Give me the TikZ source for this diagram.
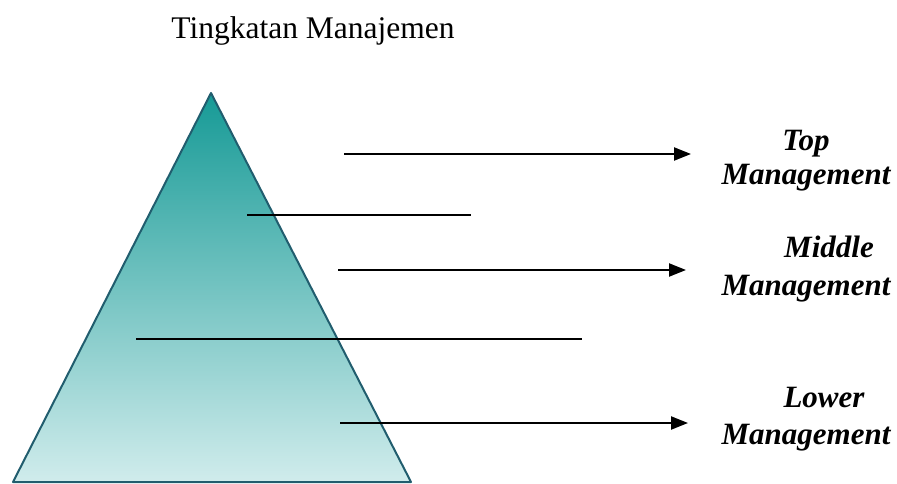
\documentclass[tikz,border=0pt]{standalone}
\usepackage{fontspec}
\setmainfont{Liberation Serif}
\usetikzlibrary{arrows.meta}
\definecolor{tealtop}{HTML}{169A96}
\definecolor{tealbot}{HTML}{D0ECEC}
\definecolor{tealedge}{HTML}{215D6E}
\begin{document}
\begin{tikzpicture}[
        x=1pt, y=-1pt,
        etichetta/.style={
            anchor=base,
            inner sep=0pt,
            font=\fontsize{31}{37}\selectfont\bfseries\itshape
        },
        freccia/.style={
            line width=2.2pt,
            -{Triangle[length=17pt,width=13pt]}
        },
        divisore/.style={
            line width=2pt
        }
    ]
        \useasboundingbox (0,0) rectangle (897,484);

        % Titolo
        \node[anchor=base, inner sep=0pt, font=\fontsize{31.5}{37}\selectfont] (titolo) at (313,39) {Tingkatan Manajemen};

        % Piramide
        \coordinate (apice) at (211,93);
        \coordinate (sx) at (13,482);
        \coordinate (dx) at (411,482);
        \shade[top color=tealtop, bottom color=tealbot] (apice) -- (sx) -- (dx) -- cycle;
        \draw[tealedge, line width=2pt, line join=round] (apice) -- (sx) -- (dx) -- cycle;

        % Linee di separazione
        \coordinate (a1) at (247,215);
        \coordinate (b1) at (471,215);
        \coordinate (a2) at (136,339);
        \coordinate (b2) at (582,339);
        \draw[divisore] (a1) -- (b1);
        \draw[divisore] (a2) -- (b2);

        % Frecce
        \foreach \y/\xa/\xb [count=\i] in {154/344/691, 270/338/686, 423/340/688} {
            \coordinate (s\i) at (\xa,\y);
            \coordinate (e\i) at (\xb,\y);
            \draw[freccia] (s\i) -- (e\i);
        }

        % Etichette dei livelli
        \foreach \testo/\x/\y [count=\i] in {Top/806/150, Middle/829/257, Lower/824/407} {
            \node[etichetta] (liv\i) at (\x,\y) {\testo};
        }
        \foreach \y [count=\i] in {185, 295, 444} {
            \node[etichetta] (man\i) at (806,\y) {Management};
        }
    \end{tikzpicture}
\end{document}
